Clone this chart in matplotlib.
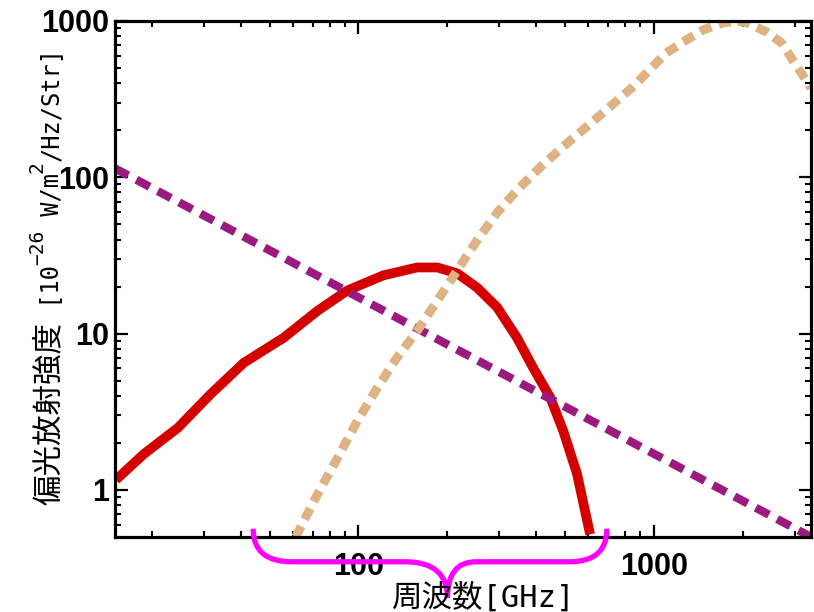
import numpy as np
import matplotlib
matplotlib.use("Agg")
import matplotlib.pyplot as plt
from matplotlib.path import Path
from matplotlib.patches import PathPatch
from matplotlib.transforms import blended_transform_factory

plt.rcParams['font.family'] = ['Noto Sans CJK JP', 'DejaVu Sans']

# シンクロトロン (紫), 熱的ダスト (ベージュ), 赤い曲線
sync_freq = [15, 3400]
sync_int = [114, 0.5]

red_freq = [15.1, 18.8, 24.5, 31.6, 40.9, 55.8, 72.7, 91.8, 121.5, 158, 185,
            216, 252, 295, 344, 390, 446, 493, 549, 608]
red_int = [1.16, 1.70, 2.5, 4.1, 6.5, 9.4, 14.0, 18.9, 23.6, 26.5, 26.5,
           24.3, 19.7, 14.7, 9.4, 6.05, 3.89, 2.39, 1.27, 0.52]

dust_freq = [61.3, 72.7, 84.9, 99.2, 115.9, 135, 158, 185, 216, 252, 295,
             344, 412, 508, 658, 847, 1100, 1253, 1465, 1711, 1880, 2062,
             2410, 2706, 2948, 3237, 3400]
dust_int = [0.5, 0.94, 1.60, 2.77, 4.51, 7.02, 10.4, 16.3, 25.4, 39.5, 59.6,
            82.6, 116, 165, 250, 378, 624, 733, 876, 971, 1000, 975,
            850, 723, 563, 431, 372]

xticks = [100, 1000]
xticklabels = ['100', '1000']
yticks = [1, 10, 100, 1000]
yticklabels = ['1', '10', '100', '1000']

# 観測帯域を示す中括弧 (GHz)
band_lo, band_tip, band_hi = 44, 200, 693

W, H = 814, 612
fig = plt.figure(figsize=(W / 100, H / 100), dpi=100)
ax = fig.add_axes([115 / W, 1 - 537 / H, 696 / W, 516 / H])

ax.plot(red_freq, red_int, color='#d40000', lw=7, solid_capstyle='butt',
        solid_joinstyle='round')
ax.plot(sync_freq, sync_int, color='#9c1a80', lw=6, dashes=(1.8, 1.1))
ax.plot(dust_freq, dust_int, color='#deb282', lw=6.5, dashes=(1.35, 0.85))

ax.set_xscale('log')
ax.set_yscale('log')
ax.set_xlim(15, 3400)
ax.set_ylim(0.5, 1000)

tick_font = dict(family=['Liberation Sans', 'DejaVu Sans'],
                 weight='bold', size=22)
ax.set_xticks(xticks)
ax.set_xticklabels(xticklabels, fontdict=tick_font)
ax.set_yticks(yticks)
ax.set_yticklabels(yticklabels, fontdict=tick_font)
ax.tick_params(which='both', direction='in', top=True, right=True)
ax.tick_params(which='major', length=9, width=1.6)
ax.tick_params(which='minor', length=4.5, width=1.5)
ax.tick_params(axis='x', which='major', pad=11)
ax.tick_params(axis='y', which='major', pad=4)
for s in ax.spines.values():
    s.set_linewidth(2.3)

mono = ['DejaVu Sans Mono', 'Noto Sans CJK JP']

# x 軸ラベル
fig.text(484 / W, 1 - 607 / H, '周波数[GHz]', family=mono, fontsize=22,
         ha='center', va='baseline')

# y 軸ラベル: 縦書き方向に部品をつないで上付き文字を再現
x_base = 58 / W
rot = dict(rotation=90, rotation_mode='anchor', ha='left', va='baseline')
prev = fig.text(x_base, 1 - 505 / H, '偏光放射強度', fontsize=22,
                family=['Noto Sans CJK JP'], **rot)
pieces = [(' [10', 17, 0), ('−26', 14, 11), (' W/m', 17, 0), ('2', 14, 11),
          ('/Hz/Str]', 17, 0)]
for txt, size, lift in pieces:
    prev = ax.annotate(txt, xy=(x_base, 1),
                       xycoords=('figure fraction', prev),
                       xytext=(-lift, 0), textcoords='offset points',
                       fontsize=size, family=mono, annotation_clip=False,
                       **rot)

# 中括弧: x はデータ座標, y は軸の割合
trans = blended_transform_factory(ax.transData, ax.transAxes)
top, mid, tip = 0.016, -0.048, -0.118
verts = [(band_lo, top), (band_lo, mid), (band_lo * 1.35, mid),
         (band_tip * 0.72, mid),
         (band_tip, mid), (band_tip, tip),
         (band_tip, mid), (band_tip * 1.25, mid),
         (band_hi * 0.75, mid),
         (band_hi, mid), (band_hi, top)]
codes = [Path.MOVETO, Path.CURVE3, Path.CURVE3, Path.LINETO,
         Path.CURVE3, Path.CURVE3, Path.CURVE3, Path.CURVE3,
         Path.LINETO, Path.CURVE3, Path.CURVE3]
brace = PathPatch(Path(verts, codes), transform=trans, fill=False,
                  edgecolor='#ff00ff', lw=3.8, clip_on=False, zorder=5)
ax.add_patch(brace)

fig.savefig('out.png', dpi=100)
